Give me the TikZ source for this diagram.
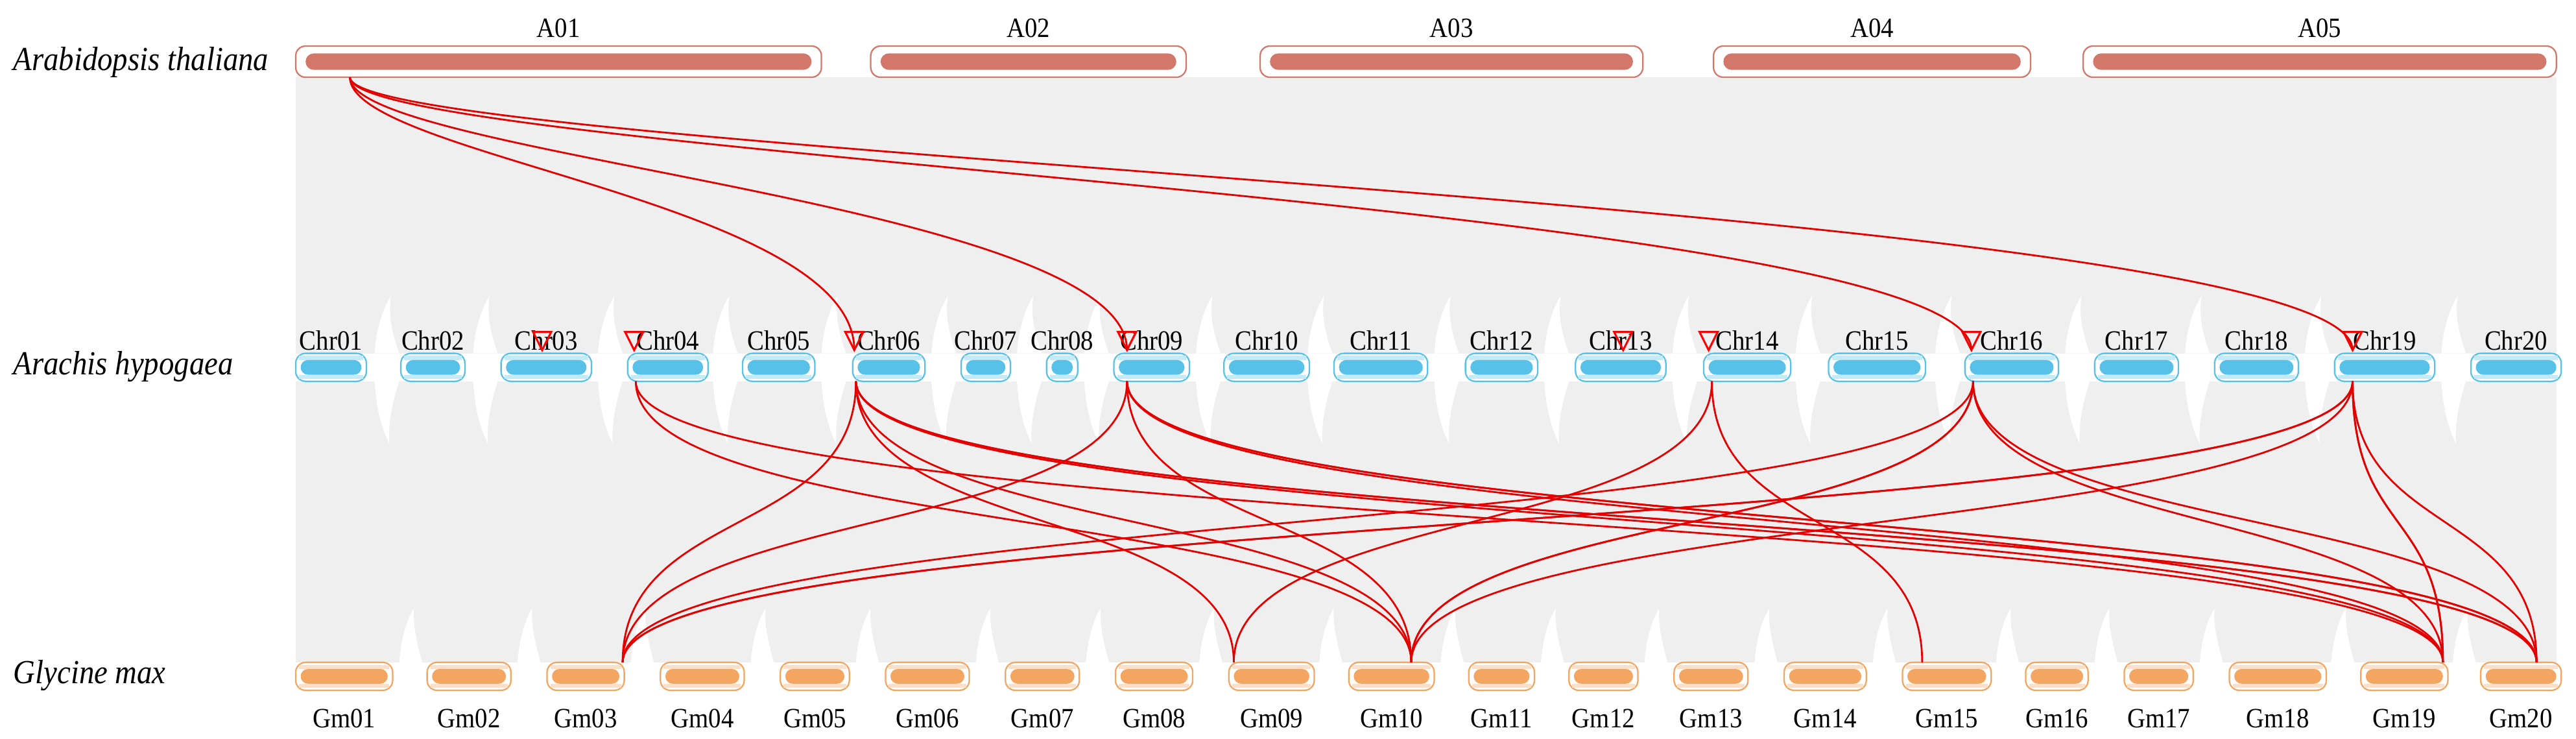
\documentclass[tikz,border=0pt]{standalone}
\usepackage{fontspec}
\setmainfont{Liberation Serif}[FakeStretch=0.9]
\usetikzlibrary{calc}
\begin{document}
\begin{tikzpicture}[x=1pt,y=-1pt,
  lbl/.style={font=\fontsize{17}{17}\selectfont, inner sep=0pt},
  spc/.style={font=\fontsize{20.5}{20.5}\selectfont\itshape, anchor=west, inner sep=0pt},
  link/.style={draw=red!90!black, line width=1.1pt},
  trimark/.style={draw=red, line width=1.2pt},
  gapw/.style={fill=white, draw=none}]
\useasboundingbox (0,0) rectangle (1568,449.6);
\definecolor{atc}{HTML}{D4776B}
\definecolor{ahc}{HTML}{57C1E8}
\definecolor{gmc}{HTML}{F3A562}
\definecolor{bgc}{HTML}{EFEFEF}
% backgrounds
\fill[bgc] (180,47) rectangle (1556,215);
\fill[bgc] (180,232) rectangle (1556,403);
\foreach \g in {235,295,371,441,507,574,626,667,735,803,880,947,1025,1100,1185,1264,1337,1410,1493}{
  \fill[gapw] (\g-7,215) .. controls (\g-6,200) and (\g-2,188) .. (\g+3,180) .. controls (\g+1,192) and (\g+4,204) .. (\g+8,215) -- cycle;
  \fill[gapw] (\g-7,232) .. controls (\g-6,248) and (\g-3,260) .. (\g+2,270) .. controls (\g+1,258) and (\g+4,244) .. (\g+8,232) -- cycle;
}
\foreach \g in {250,322,391,464,528,601,668,737,810,884,945,1008,1075,1147,1222,1282,1346,1426,1500}{
  \fill[gapw] (\g-7,403) .. controls (\g-6,390) and (\g-3,378) .. (\g+2,370) .. controls (\g+1,380) and (\g+4,392) .. (\g+7,403) -- cycle;
}
% Arabidopsis
\foreach \n/\a/\b in {A01/180/500,A02/530/722,A03/767/1000,A04/1043/1236,A05/1268/1556}{
  \node[draw=atc, line width=0.9pt, fill=white, rounded corners=6pt, minimum height=19pt, minimum width={\b-\a}, inner sep=0pt] (\n) at ({(\a+\b)/2},37.5) {};
  \fill[atc, rounded corners=5pt] (\a+6,32.5) rectangle (\b-6,42.5);
  \node[lbl] (\n l) at ({(\a+\b)/2},17) {\n};
}
% Arachis
\foreach \n/\a/\b in {01/180/223,02/244/283,03/305/360,04/382/431,05/452/496,06/519/563,07/585/615,08/637/656,09/678/724,10/745/797,11/812/869,12/892/936,13/959/1014,14/1037/1090,15/1113/1172,16/1196/1253,17/1275/1326,18/1348/1399,19/1421/1482,20/1504/1559}{
  \node[draw=ahc, line width=0.9pt, fill=white, rounded corners=6pt, minimum height=17pt, minimum width={\b-\a}, inner sep=0pt] (Chr\n) at ({(\a+\b)/2},223.5) {};
  \fill[ahc!35] (\a+2,216.5) rectangle (\b-2,219);
  \fill[ahc!35] (\a+2,228) rectangle (\b-2,230.5);
  \fill[ahc, rounded corners=4.5pt] (\a+3,219) rectangle (\b-3,228);
  \node[lbl] (Chr\n l) at ({(\a+\b)/2},207) {Chr\n};
}
% Glycine
\foreach \n/\a/\b in {01/180/239,02/260/311,03/333/380,04/402/453,05/475/517,06/539/590,07/612/657,08/679/726,09/748/800,10/821/873,11/894/934,12/955/997,13/1019/1064,14/1086/1136,15/1158/1212,16/1233/1271,17/1293/1335,18/1357/1416,19/1437/1490,20/1510/1559}{
  \node[draw=gmc, line width=0.9pt, fill=white, rounded corners=6pt, minimum height=17pt, minimum width={\b-\a}, inner sep=0pt] (Gm\n) at ({(\a+\b)/2},411.5) {};
  \fill[gmc!35] (\a+2,404.5) rectangle (\b-2,407);
  \fill[gmc!35] (\a+2,416) rectangle (\b-2,418.5);
  \fill[gmc, rounded corners=4.5pt] (\a+3,407) rectangle (\b-3,416);
  \node[lbl] (Gm\n l) at ({(\a+\b)/2},437) {Gm\n};
}
% species
\node[spc] (sp1) at (8,38) {Arabidopsis thaliana};
\node[spc] (sp2) at (8,223) {Arachis hypogaea};
\node[spc] (sp3) at (8,411) {Glycine max};
% anchor coordinates
\coordinate (sA) at (213,47);
\foreach \n/\x in {03/330,04/386,06/520,09/686,13/988,14/1040,16/1200,19/1432}{
  \coordinate (t\n) at (\x,213);
  \draw[trimark] (\x-5.5,202) -- (\x+5.5,202) -- (t\n) -- cycle;
}
\foreach \n/\x in {04/387,06/521,09/686,14/1042,16/1201,19/1432}{
  \coordinate (b\n) at (\x,232);
}
\foreach \n/\x in {03/379,09/751,10/859,15/1170,19/1487,20/1544}{
  \coordinate (g\n) at (\x,403);
}
% A01 -> Arachis
\foreach \t in {06,09,16,19}{
  \draw[link] (sA) .. controls (213,95) and ($(t\t)+(0,-90)$) .. (t\t);
}
% Arachis -> Glycine
\foreach \s/\t in {04/10,04/19,06/03,06/09,06/10,06/19,06/20,06/20,09/03,09/10,09/19,09/20,09/20,14/09,14/15,16/03,16/10,16/10,16/19,16/20,19/03,19/03,19/10,19/19,19/19,19/20}{
  \draw[link] (b\s) .. controls ($(b\s)+(0,95)$) and ($(g\t)+(0,-95)$) .. (g\t);
}
\end{tikzpicture}
\end{document}
